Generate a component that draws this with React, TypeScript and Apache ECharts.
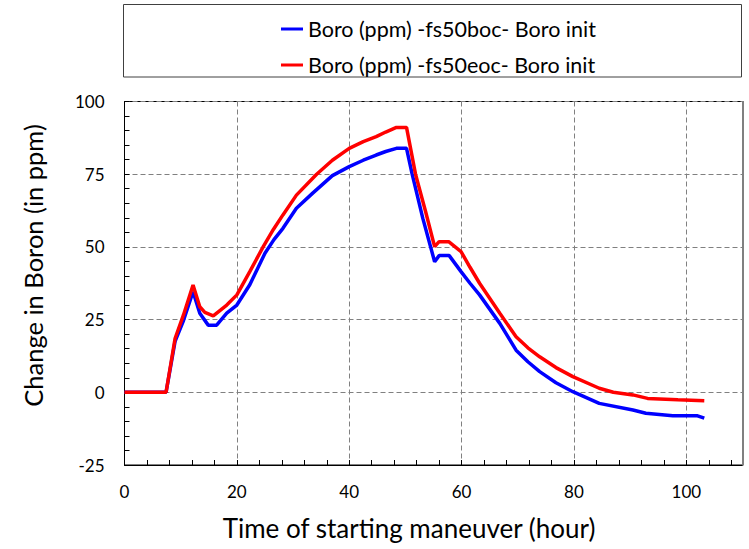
import React, { useEffect, useRef } from "react";
import * as echarts from "echarts";

const seriesNames = [
  "Boro (ppm) -fs50boc- Boro init",
  "Boro (ppm) -fs50eoc- Boro init",
];

const blueTime = [0, 7.4, 9.0, 10.5, 12.2, 13.4, 14.9, 16.4, 18.2, 20, 22.3, 25, 26.6, 28.2, 30.6, 33.5, 37, 40, 42.5, 44.8, 46.5, 48.4, 50.2, 51.2, 53.1, 55.2, 56.0, 57.8, 59.9, 61.5, 63.2, 66.8, 69.7, 71.8, 73.9, 76.8, 79.8, 84.5, 90.5, 92.8, 97.6, 102, 103.2];
const blueValues = [0, 0, 17.5, 24.7, 34.6, 27.2, 23.1, 23.1, 27.2, 30, 37, 47.8, 52.5, 56.4, 63.3, 68.5, 74.5, 77.6, 79.8, 81.6, 82.8, 83.9, 83.9, 75, 59.8, 44.9, 47.0, 47.0, 41.5, 37.5, 33.5, 23.7, 14.5, 10.5, 7.1, 3.3, 0.2, -3.8, -6.1, -7.2, -8.1, -8.1, -8.9];

const redTime = [0, 7.4, 9.0, 10.5, 12.2, 13.4, 14.3, 15.8, 18.2, 20, 22.3, 24.7, 26.5, 28.2, 30.6, 34.2, 37, 40, 42.5, 44.8, 46.5, 48.4, 50.2, 51.8, 53.6, 55.2, 56.0, 57.7, 59.9, 61.5, 63.2, 66.8, 69.7, 71.8, 73.9, 76.8, 79.8, 84.5, 87, 90.5, 93.1, 98.5, 103.2];
const redValues = [0, 0, 18.5, 26.6, 36.9, 29.4, 27.5, 26.3, 30, 33.5, 41.5, 50.1, 56, 61, 67.8, 75, 79.8, 83.9, 86.2, 87.9, 89.5, 91.1, 91.1, 75, 62.1, 50.1, 51.8, 51.8, 48.4, 43, 37.5, 27.2, 19.1, 15.3, 12.2, 8.5, 5.4, 1.4, 0, -0.9, -2.1, -2.6, -2.9];

const xTitle = "Time of starting maneuver (hour)";
const yTitle = "Change in Boron (in ppm)";

const FONT = "Lato, 'Open Sans', sans-serif";

export default function App() {
  const ref = useRef<HTMLDivElement>(null);
  useEffect(() => {
    if (!ref.current) return;
    const chart = echarts.init(ref.current, undefined, { renderer: "svg" });
    const pairs = (t: number[], v: number[]) => t.map((x, i) => [x, v[i]]);
    chart.setOption({
      animation: false,
      backgroundColor: "#fff",
      textStyle: { fontFamily: FONT },
      grid: {
        left: 124.5,
        right: 6.5,
        top: 101.5,
        bottom: 84,
        show: true,
        borderColor: "#000",
        borderWidth: 1,
      },
      legend: {
        orient: "vertical",
        left: 276,
        top: 12,
        itemWidth: 22,
        itemHeight: 3,
        itemGap: 12,
        icon: "rect",
        textStyle: { fontSize: 21.5, color: "#000", fontFamily: FONT, lineHeight: 24 },
        data: seriesNames,
      },
      xAxis: {
        type: "value",
        min: 0,
        max: 110,
        interval: 20,
        axisLine: { show: true, onZero: false, lineStyle: { color: "#000", width: 1 } },
        axisTick: { show: true, inside: true, length: 5, lineStyle: { color: "#000" } },
        minorTick: { show: true, splitNumber: 5, length: 5, lineStyle: { color: "#000" } },
        axisLabel: {
          fontSize: 17,
          color: "#000",
          margin: 18,
          fontFamily: FONT,
          showMaxLabel: false,
        },
        splitLine: { show: true, lineStyle: { color: "#808080", type: [5, 3], width: 1 } },
      },
      yAxis: {
        type: "value",
        min: -25,
        max: 100,
        interval: 25,
        axisLine: { show: true, onZero: false, lineStyle: { color: "#000", width: 1 } },
        axisTick: { show: true, inside: true, length: 5, lineStyle: { color: "#000" } },
        minorTick: { show: true, splitNumber: 5, length: 5, lineStyle: { color: "#000" } },
        axisLabel: { fontSize: 17, color: "#000", margin: 20, fontFamily: FONT },
        splitLine: { show: true, lineStyle: { color: "#808080", type: [5, 3], width: 1 } },
      },
      graphic: [
        {
          type: "rect",
          shape: { x: 123.5, y: 4.5, width: 618, height: 72.5 },
          style: { fill: "none", stroke: "#404040", lineWidth: 1 },
          silent: true,
        },
        {
          type: "line",
          shape: { x1: 743, y1: 101, x2: 743, y2: 465.5 },
          style: { stroke: "#808080", lineWidth: 2 },
          silent: true,
          z: 10,
        },
        {
          type: "text",
          x: 409,
          y: 528,
          style: {
            text: xTitle,
            fontSize: 26,
            fill: "#000",
            fontFamily: FONT,
            align: "center",
            verticalAlign: "middle",
          },
        },
        {
          type: "text",
          x: 33,
          y: 265.5,
          rotation: Math.PI / 2,
          style: {
            text: yTitle,
            fontSize: 25.5,
            fill: "#000",
            fontFamily: FONT,
            align: "center",
            verticalAlign: "middle",
          },
        },
      ],
      series: [
        {
          name: seriesNames[0],
          type: "line",
          data: pairs(blueTime, blueValues),
          showSymbol: false,
          symbol: "none",
          lineStyle: { color: "#0000FF", width: 3.5 },
          itemStyle: { color: "#0000FF" },
        },
        {
          name: seriesNames[1],
          type: "line",
          data: pairs(redTime, redValues),
          showSymbol: false,
          symbol: "none",
          lineStyle: { color: "#FF0000", width: 3.5 },
          itemStyle: { color: "#FF0000" },
        },
      ],
    });
    return () => chart.dispose();
  }, []);
  return <div ref={ref} style={{ width: 749, height: 549, position: "absolute", left: 0, top: 0 }} />;
}
